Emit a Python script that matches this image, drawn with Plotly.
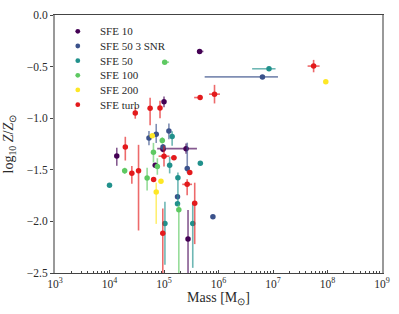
import numpy as np
import plotly.graph_objects as go

# ---------------- data (mass in Msun, log10 Z/Zsun, errors in dex) ----------------
names = ["SFE 10", "SFE 50 3 SNR", "SFE 50", "SFE 100", "SFE 200", "SFE turb"]
colors = ["#440154", "#3b528b", "#21918c", "#5ec962", "#fde725", "#e31a1c"]

sfe10_mass = [4.5e5, 1.0e5, 2.54e5, 1.36e4, 9.6e4, 6.9e4, 2.76e5]
sfe10_z = [-0.353, -0.84, -1.295, -1.366, -1.30, -1.455, -2.17]
sfe10_xp = [0.07, 0.0, 0.20, 0.0, 0.0, 0.0, 0.0]
sfe10_xm = [0.0, 0.0, 0.53, 0.0, 0.0, 0.0, 0.0]
sfe10_yp = [0.0, 0.05, 0.05, 0.08, 0.03, 0.02, 0.28]
sfe10_ym = [0.0, 0.054, 0.05, 0.095, 0.03, 0.02, 0.34]

snr_mass = [6.4e6, 5.3e4, 7.2e4, 1.23e5, 9.6e4, 2.67e5, 1.77e5, 7.9e5]
snr_z = [-0.60, -1.193, -1.155, -1.124, -1.28, -1.487, -1.76, -1.954]
snr_xp = [0.285, 0.0, 0.0, 0.0, 0.0, 0.0, 0.0, 0.0]
snr_xm = [1.06, 0.0, 0.0, 0.0, 0.0, 0.0, 0.0, 0.0]
snr_yp = [0.0, 0.07, 0.10, 0.073, 0.03, 0.25, 0.0, 0.0]
snr_ym = [0.0, 0.07, 0.085, 0.08, 0.03, 0.04, 0.0, 0.0]

s50_mass = [8.45e6, 1.41e5, 1.27e5, 4.64e5, 1.8e5, 1.77e5, 1.0e4, 1.04e5, 3.37e5]
s50_z = [-0.521, -1.177, -1.455, -1.437, -1.577, -1.83, -1.65, -2.02, -2.02]
s50_xp = [0.12, 0.0, 0.0, 0.0, 0.0, 0.0, 0.0, 0.0, 0.0]
s50_xm = [0.31, 0.0, 0.0, 0.0, 0.0, 0.0, 0.0, 0.0, 0.0]
s50_yp = [0.0, 0.05, 0.08, 0.0, 0.05, 0.0, 0.0, 0.21, 0.21]
s50_ym = [0.0, 0.09, 0.08, 0.0, 0.26, 0.0, 0.0, 0.40, 0.43]

s100_mass = [1.03e5, 1.9e4, 4.9e4, 6.4e4, 7.55e4, 1.87e5, 9.3e4]
s100_z = [-0.457, -1.51, -1.58, -1.329, -1.468, -1.887, -1.215]
s100_xp = [0.08, 0.0, 0.0, 0.0, 0.0, 0.0, 0.0]
s100_xm = [0.0, 0.0, 0.0, 0.0, 0.0, 0.0, 0.0]
s100_yp = [0.0, 0.03, 0.10, 0.09, 0.08, 0.05, 0.03]
s100_ym = [0.0, 0.03, 0.12, 0.10, 0.08, 0.62, 0.03]

s200_mass = [9.3e7, 6.1e4, 8.8e4, 7.2e4]
s200_z = [-0.647, -1.171, -1.61, -1.714]
s200_xp = [0.0, 0.0, 0.0, 0.0]
s200_xm = [0.0, 0.0, 0.0, 0.0]
s200_yp = [0.0, 0.0, 0.0, 0.09]
s200_ym = [0.0, 0.0, 0.0, 0.31]

turb_mass = [5.56e7, 4.6e5, 8.45e5, 5.56e4, 2.97e4, 8.45e4, 1.95e4, 2.57e4,
             3.41e4, 6.45e4, 1.0e5, 1.52e5, 2.97e5, 2.66e5, 3.66e5, 9.5e4]
turb_z = [-0.495, -0.80, -0.767, -0.903, -0.95, -0.90, -1.28, -1.534,
          -1.508, -1.594, -1.368, -1.383, -1.525, -1.641, -1.825, -2.115]
turb_xp = [0.11, 0.0, 0.10, 0.0, 0.0, 0.03, 0.0, 0.0,
           0.0, 0.0, 0.10, 0.05, 0.0, 0.09, 0.0, 0.0]
turb_xm = [0.11, 0.11, 0.10, 0.0, 0.0, 0.03, 0.0, 0.0,
           0.0, 0.0, 0.10, 0.05, 0.0, 0.09, 0.0, 0.0]
turb_yp = [0.06, 0.0, 0.09, 0.10, 0.055, 0.07, 0.10, 0.07,
           0.25, 0.0, 0.10, 0.0, 0.0, 0.05, 0.20, 0.24]
turb_ym = [0.06, 0.0, 0.09, 0.165, 0.055, 0.10, 0.13, 0.10,
           0.58, 0.0, 0.10, 0.0, 0.0, 0.105, 0.395, 0.385]

y_tickvals = [0.0, -0.5, -1.0, -1.5, -2.0, -2.5]
y_ticktext = ["0.0", "\u22120.5", "\u22121.0", "\u22121.5", "\u22122.0", "\u22122.5"]
x_tickvals = [1e3, 1e4, 1e5, 1e6, 1e7, 1e8, 1e9]
x_ticktext = ["10<sup>3</sup>", "10<sup>4</sup>", "10<sup>5</sup>", "10<sup>6</sup>",
              "10<sup>7</sup>", "10<sup>8</sup>", "10<sup>9</sup>"]
x_title = "Mass [M<sub>\u2299</sub>]"
y_title = "log<sub>10</sub> <i>Z</i>/<i>Z</i><sub>\u2299</sub>"

series = [
    (sfe10_mass, sfe10_z, sfe10_xp, sfe10_xm, sfe10_yp, sfe10_ym),
    (snr_mass, snr_z, snr_xp, snr_xm, snr_yp, snr_ym),
    (s50_mass, s50_z, s50_xp, s50_xm, s50_yp, s50_ym),
    (s100_mass, s100_z, s100_xp, s100_xm, s100_yp, s100_ym),
    (s200_mass, s200_z, s200_xp, s200_xm, s200_yp, s200_ym),
    (turb_mass, turb_z, turb_xp, turb_xm, turb_yp, turb_ym),
]


def rgba(hexc, a):
    h = hexc.lstrip("#")
    r, g, b = int(h[0:2], 16), int(h[2:4], 16), int(h[4:6], 16)
    return f"rgba({r},{g},{b},{a})"


FONT = "Liberation Serif, Times New Roman, serif"
TXT = "#2a2a2a"
fig = go.Figure()
for name, col, (m, z, xp, xm, yp, ym) in zip(names, colors, series):
    m = np.array(m)
    xp_lin = m * (10 ** np.array(xp) - 1)
    xm_lin = m * (1 - 10 ** (-np.array(xm)))
    fig.add_trace(go.Scatter(
        x=m, y=z, mode="markers", name=name, showlegend=False,
        marker=dict(color=col, size=5.5, line=dict(width=0)),
        error_x=dict(type="data", symmetric=False, array=xp_lin, arrayminus=xm_lin,
                     color=rgba(col, 0.65), thickness=1.6, width=0),
        error_y=dict(type="data", symmetric=False, array=yp, arrayminus=ym,
                     color=rgba(col, 0.65), thickness=1.6, width=0),
    ))

# legend (compact, matplotlib-like spacing) built from the series names/colours
leg_x_marker = 0.0697
leg_x_text = 0.130
leg_y0 = 0.9367
leg_dy = 15 / 264
shapes = []
annotations = []
for i, (name, col) in enumerate(zip(names, colors)):
    yy = leg_y0 - i * leg_dy
    shapes.append(dict(type="circle", xref="paper", yref="paper",
                       xsizemode="pixel", ysizemode="pixel",
                       xanchor=leg_x_marker, yanchor=yy,
                       x0=-2.4, x1=2.4, y0=-2.4, y1=2.4,
                       fillcolor=col, line=dict(width=0)))
    annotations.append(dict(text=name, xref="paper", yref="paper",
                            x=leg_x_text, y=yy, xanchor="left", yanchor="middle",
                            showarrow=False,
                            font=dict(family=FONT, size=11, color=TXT)))

# y-axis title placed as a rotated annotation (closer to the edge, as in the reference)
annotations.append(dict(text=y_title, xref="paper", yref="paper",
                        x=-46 / 330, y=0.5, xanchor="center", yanchor="middle",
                        textangle=-90, showarrow=False,
                        font=dict(family=FONT, size=14, color=TXT)))

fig.update_layout(
    width=399, height=314,
    margin=dict(l=55, r=14, t=9, b=41),
    paper_bgcolor="white", plot_bgcolor="white",
    font=dict(family=FONT, size=11, color=TXT),
    showlegend=False,
    shapes=shapes, annotations=annotations,
)
fig.update_xaxes(
    type="log", range=[3, 9],
    tickvals=x_tickvals, ticktext=x_ticktext,
    ticks="inside", ticklen=3, tickcolor="#444",
    minor=dict(ticks="inside", ticklen=2, tickcolor="#444", dtick="D1"),
    showline=True, linecolor="#444", linewidth=1, mirror=True,
    showgrid=False, zeroline=False,
    tickfont=dict(family=FONT, size=11.5, color=TXT),
    title=dict(text=x_title, font=dict(family=FONT, size=14, color=TXT), standoff=3),
)
fig.update_yaxes(
    range=[-2.5, 0.0],
    tickvals=y_tickvals, ticktext=y_ticktext,
    ticks="outside", ticklen=3, tickcolor="#444",
    showline=True, linecolor="#999", linewidth=2, mirror=True,
    showgrid=False, zeroline=False,
    tickfont=dict(family=FONT, size=11.5, color=TXT),
)

fig.write_html("out.html", config={"displayModeBar": False},
               post_script="document.body.style.margin='0';")
